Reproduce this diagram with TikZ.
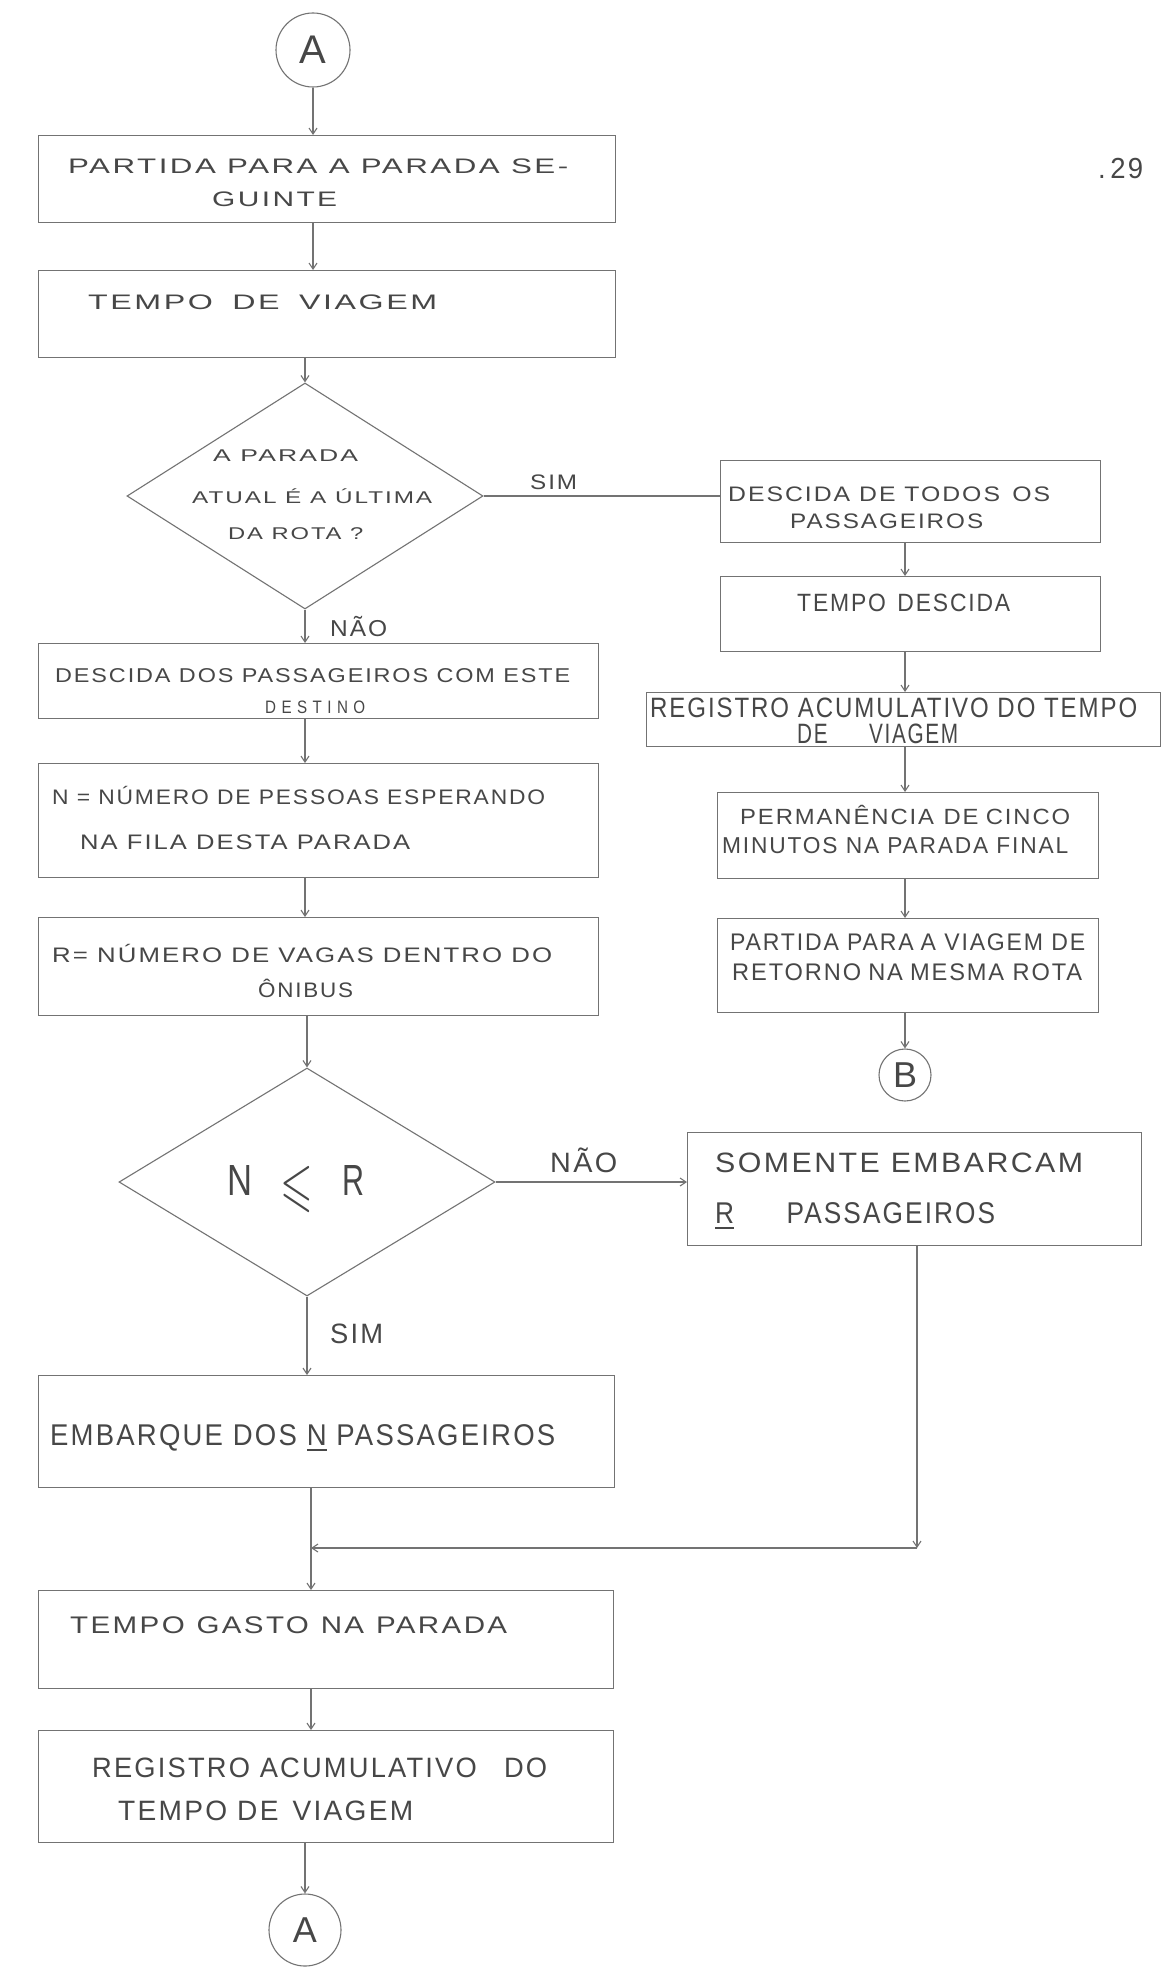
\documentclass[tikz,border=0pt]{standalone}
\usepackage{fontspec}
\usepackage{amssymb}
\usepackage{graphicx}
\setmainfont{Liberation Sans}[LetterSpace=8]
\usetikzlibrary{shapes.geometric,arrows.meta}
\tikzset{
  ln/.style={draw=black!55, line width=1.1pt},
  arr/.style={ln, -{Straight Barb[length=6pt,width=8pt]}},
  box/.style={ln, rectangle, inner sep=0pt, anchor=north west},
  dia/.style={ln, diamond, inner sep=0pt},
  conn/.style={ln, circle, inner sep=0pt},
  txt/.style={inner sep=0pt, text=black!72},
}
\newcommand{\TL}[6]{\node[txt, font=\fontsize{#2}{#2}\selectfont, anchor=base west] (#1) at ({#3},{#4+0.358*#2}) {\resizebox{#5pt}{\height}{#6}};}
\begin{document}
\begin{tikzpicture}[x=1pt,y=-1pt]
\fill[white] (0,0) rectangle (1169,1977);
\useasboundingbox (0,0) rectangle (1169,1977);

% ---------- shapes, left column ----------
\node[conn, minimum size=74pt] (cA1) at (313,50) {};
\node[box, minimum width=577pt, minimum height=87pt] (b1) at (38,135) {};
\node[box, minimum width=577pt, minimum height=87pt] (b2) at (38,270) {};
\node[dia, minimum width=356pt, minimum height=226pt] (d1) at (305,496) {};
\node[box, minimum width=560pt, minimum height=75pt] (b3) at (38,643) {};
\node[box, minimum width=560pt, minimum height=114pt] (b4) at (38,763) {};
\node[box, minimum width=560pt, minimum height=98pt] (b5) at (38,917) {};
\node[dia, minimum width=376pt, minimum height=228pt] (d2) at (307,1182) {};
\node[box, minimum width=576pt, minimum height=112pt] (b6) at (38,1375) {};
\node[box, minimum width=575pt, minimum height=98pt] (b7) at (38,1590) {};
\node[box, minimum width=575pt, minimum height=112pt] (b8) at (38,1730) {};
\node[conn, minimum size=72pt] (cA2) at (305,1930) {};

% ---------- shapes, right column ----------
\node[box, minimum width=380pt, minimum height=82pt] (rb1) at (720,460) {};
\node[box, minimum width=380pt, minimum height=75pt] (rb2) at (720,576) {};
\node[box, minimum width=514pt, minimum height=54pt] (rb3) at (646,692) {};
\node[box, minimum width=381pt, minimum height=86pt] (rb4) at (717,792) {};
\node[box, minimum width=381pt, minimum height=94pt] (rb5) at (717,918) {};
\node[conn, minimum size=52pt] (cB) at (905,1075) {};
\node[box, minimum width=454pt, minimum height=113pt] (rb6) at (687,1132) {};

\coordinate (k) at (917,1548);
\coordinate (j) at (311,1548);

% ---------- connectors ----------
\draw[arr] (cA1.south) -- (cA1.south |- b1.north);
\draw[arr] (cA1.south |- b1.south) -- (cA1.south |- b2.north);
\draw[arr] (d1.north |- b2.south) -- (d1.north);
\draw[ln] (d1.east) -- (d1.east -| rb1.west);
\draw[arr] (d1.south) -- (d1.south |- b3.north);
\draw[arr] (d1.south |- b3.south) -- (d1.south |- b4.north);
\draw[arr] (d1.south |- b4.south) -- (d1.south |- b5.north);
\draw[arr] (d2.north |- b5.south) -- (d2.north);
\draw[arr] (d2.east) -- (d2.east -| rb6.west);
\draw[arr] (d2.south) -- (d2.south |- b6.north);
\draw[arr] (j |- b6.south) -- (j |- b7.north);
\draw[arr] (rb6.south -| k) -- (k);
\draw[arr] (k) -- (j);
\draw[arr] (j |- b7.south) -- (j |- b8.north);
\draw[arr] (cA2.north |- b8.south) -- (cA2.north);

\draw[arr] (cB.north |- rb1.south) -- (cB.north |- rb2.north);
\draw[arr] (cB.north |- rb2.south) -- (cB.north |- rb3.north);
\draw[arr] (cB.north |- rb3.south) -- (cB.north |- rb4.north);
\draw[arr] (cB.north |- rb4.south) -- (cB.north |- rb5.north);
\draw[arr] (cB.north |- rb5.south) -- (cB.north);

% ---------- texts ----------
\node[txt, font=\fontsize{40}{40}\selectfont] (tA1) at (cA1) {A};
\node[txt, font=\fontsize{36}{36}\selectfont] (tA2) at (cA2) {A};
\node[txt, font=\fontsize{36}{36}\selectfont] (tB) at (cB) {B};

\TL{pg}{29}{1098}{168}{45}{.\,29}
\TL{t1a}{21}{68}{166}{500}{PARTIDA PARA A PARADA SE-}
\TL{t1b}{21}{212}{199}{125}{GUINTE}
\TL{t2}{21}{88}{302}{349}{TEMPO\hspace{0.6em}DE\hspace{0.6em}VIAGEM}
\TL{t3a}{17}{213}{455}{145}{A PARADA}
\TL{t3b}{17}{192}{497}{240}{ATUAL É A ÚLTIMA}
\TL{t3c}{17}{228}{533}{135}{DA ROTA ?}
\TL{s1}{21}{530}{482}{47}{SIM}
\TL{n1}{23}{330}{628}{57}{NÃO}
\TL{t4a}{21}{728}{494}{322}{DESCIDA DE TODOS\hspace{0.5em}OS}
\TL{t4b}{21}{790}{521}{193}{PASSAGEIROS}
\TL{t5}{25}{797}{603}{213}{TEMPO\hspace{0.5em}DESCIDA}
\TL{t6a}{28}{650}{707}{487}{REGISTRO ACUMULATIVO DO TEMPO}
\TL{t6b}{28}{797}{733}{161}{DE\hspace{2em}VIAGEM}
\TL{t7a}{22}{740}{817}{330}{PERMANÊNCIA\hspace{0.4em}DE\hspace{0.3em}CINCO}
\TL{t7b}{23}{722}{845}{346}{MINUTOS NA PARADA FINAL}
\TL{t8a}{24}{730}{942}{355}{PARTIDA PARA\hspace{0.3em}A VIAGEM DE}
\TL{t8b}{24}{732}{972}{350}{RETORNO\hspace{0.3em}NA\hspace{0.3em}MESMA ROTA}
\TL{t9a}{20}{55}{675}{515}{DESCIDA DOS PASSAGEIROS COM ESTE}
\TL{t9b}{18}{265}{707}{100}{D E S T I N O}
\TL{t10a}{21}{52}{797}{493}{N = NÚMERO DE PESSOAS ESPERANDO}
\TL{t10b}{21}{80}{842}{330}{NA FILA DESTA PARADA}
\TL{t11a}{21}{52}{955}{500}{R= NÚMERO DE VAGAS DENTRO DO}
\TL{t11b}{21}{258}{990}{95}{ÔNIBUS}
\node[txt, font=\fontsize{42}{42}\selectfont, anchor=base west] (t12) at (227,1195) {\resizebox{25pt}{30pt}{N}\hspace{28pt}\raisebox{-9pt}{\fontsize{10}{10}\selectfont\scalebox{4.2}[6]{$\leqslant$}}\hspace{30pt}\resizebox{22pt}{30pt}{R}};
\TL{n2}{28}{550}{1162}{67}{NÃO}
\TL{t13a}{28}{715}{1162}{368}{SOMENTE EMBARCAM}
\TL{t13b}{30}{715}{1213}{280}{\underline{R}\hspace{2em}PASSAGEIROS}
\TL{s2}{28}{330}{1333}{53}{SIM}
\TL{t14}{30}{50}{1435}{505}{EMBARQUE DOS \underline{N} PASSAGEIROS}
\TL{t15}{24}{70}{1625}{437}{TEMPO\hspace{0.4em}GASTO\hspace{0.4em}NA\hspace{0.4em}PARADA}
\TL{t16a}{28}{92}{1767}{455}{REGISTRO ACUMULATIVO\hspace{1em}DO}
\TL{t16b}{28}{118}{1810}{295}{TEMPO DE\hspace{0.5em}VIAGEM}
\end{tikzpicture}
\end{document}
